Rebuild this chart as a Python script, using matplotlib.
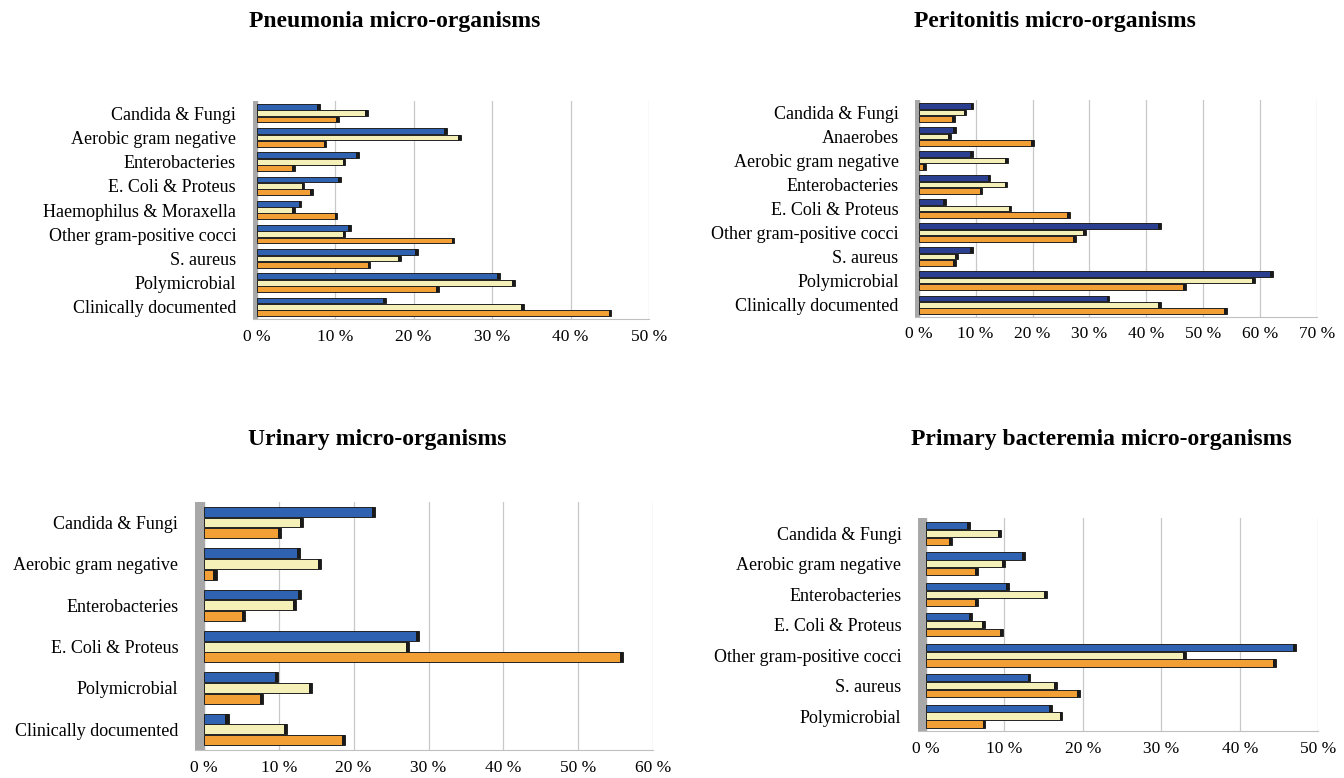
import numpy as np
import matplotlib
matplotlib.use("Agg")
import matplotlib.pyplot as plt

plt.rcParams["font.family"] = ["Liberation Serif", "DejaVu Serif"]

# Pneumonia
pneu_cats = ["Candida & Fungi", "Aerobic gram negative", "Enterobacteries", "E. Coli & Proteus",
             "Haemophilus & Moraxella", "Other gram-positive cocci", "S. aureus", "Polymicrobial",
             "Clinically documented"]
pneu_blue = [8.1, 24.2, 13.0, 10.7, 5.7, 12.0, 20.5, 31.0, 16.5]
pneu_light = [14.2, 26.0, 11.3, 6.1, 4.9, 11.3, 18.4, 32.9, 34.0]
pneu_orange = [10.5, 8.9, 4.9, 7.2, 10.3, 25.2, 14.5, 23.2, 45.2]

# Peritonitis
peri_cats = ["Candida & Fungi", "Anaerobes", "Aerobic gram negative", "Enterobacteries",
             "E. Coli & Proteus", "Other gram-positive cocci", "S. aureus", "Polymicrobial",
             "Clinically documented"]
peri_blue = [9.6, 6.5, 9.5, 12.6, 4.8, 42.5, 9.5, 62.2, 33.5]
peri_light = [8.4, 5.6, 15.7, 15.6, 16.3, 29.4, 6.9, 59.1, 42.6]
peri_orange = [6.4, 20.3, 1.2, 11.2, 26.5, 27.6, 6.5, 47.0, 54.1]

# Urinary
uri_cats = ["Candida & Fungi", "Aerobic gram negative", "Enterobacteries", "E. Coli & Proteus",
            "Polymicrobial", "Clinically documented"]
uri_blue = [22.9, 12.9, 13.0, 28.7, 9.9, 3.3]
uri_light = [13.2, 15.7, 12.3, 27.4, 14.4, 11.1]
uri_orange = [10.3, 1.7, 5.5, 56.0, 7.9, 18.9]

# Primary bacteremia
bact_cats = ["Candida & Fungi", "Aerobic gram negative", "Enterobacteries", "E. Coli & Proteus",
             "Other gram-positive cocci", "S. aureus", "Polymicrobial"]
bact_blue = [5.6, 12.6, 10.6, 5.9, 47.1, 13.3, 16.1]
bact_light = [9.6, 10.1, 15.4, 7.5, 33.1, 16.7, 17.4]
bact_orange = [3.3, 6.6, 6.6, 9.8, 44.6, 19.6, 7.6]

LIGHT = "#f4f0b8"
ORANGE = "#f2a035"


def panel(rect, title, title_x, title_y, cats, blue, light, orange, xmax, blue_col, wall):
    ax = fig.add_axes(rect)
    n = len(cats)
    y = np.arange(n)[::-1].astype(float)
    h = 0.26
    cap = xmax * 0.007
    for vals, off, col in [(blue, h, blue_col), (light, 0, LIGHT), (orange, -h, ORANGE)]:
        vals = np.array(vals)
        ax.barh(y + off, vals, height=h * 0.92, color=col, edgecolor="#222222", linewidth=0.7, zorder=3)
        ax.barh(y + off, cap, left=vals - cap, height=h * 0.92, color="#1a1a1a", zorder=4)
    ax.set_yticks(y)
    ax.set_yticklabels(cats, fontsize=13)
    ax.set_ylim(-0.5, n - 0.5)
    ax.set_xlim(-wall, xmax)
    ticks = np.arange(0, xmax + 1, 10)
    ax.set_xticks(ticks)
    ax.set_xticklabels(["%d %%" % t for t in ticks], fontsize=12.5)
    ax.axvspan(-wall, 0, color="#a8a8a8", zorder=2)
    for t in ticks[1:]:
        ax.axvline(t, color="#c8c8c8", linewidth=0.9, zorder=1)
    for s in ["top", "right", "left"]:
        ax.spines[s].set_visible(False)
    ax.spines["bottom"].set_color("#c0c0c0")
    ax.tick_params(axis="y", length=0, pad=12)
    ax.tick_params(axis="x", length=0, pad=7)
    fig.text(title_x, title_y, title, fontsize=17, fontweight="bold", ha="center", va="center")
    return ax


fig = plt.figure(figsize=(13.44, 7.78), dpi=100)

panel([0.188, 0.590, 0.295, 0.280], "Pneumonia micro-organisms", 395 / 1344, 1 - 21 / 778,
      pneu_cats, pneu_blue, pneu_light, pneu_orange, 50, "#2f62b0", 0.5)
panel([0.681, 0.593, 0.299, 0.278], "Peritonitis micro-organisms", 1055 / 1344, 1 - 21 / 778,
      peri_cats, peri_blue, peri_light, peri_orange, 70, "#2b3f90", 0.6)
panel([0.145, 0.036, 0.341, 0.319], "Urinary micro-organisms", 377 / 1344, 1 - 439 / 778,
      uri_cats, uri_blue, uri_light, uri_orange, 60, "#2f62b0", 1.2)
panel([0.683, 0.060, 0.298, 0.274], "Primary bacteremia micro-organisms", 1101 / 1344, 1 - 439 / 778,
      bact_cats, bact_blue, bact_light, bact_orange, 50, "#2f62b0", 1.0)

fig.savefig("out.png", dpi=100)
